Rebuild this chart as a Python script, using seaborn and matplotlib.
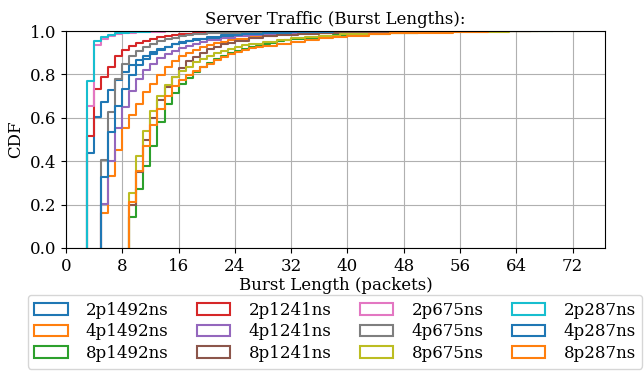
import numpy as np
import pandas as pd
import matplotlib
matplotlib.use("Agg")
import matplotlib.pyplot as plt
import matplotlib.patches as mpatches
import seaborn as sns

# ---- data (CDF value reached at each burst length) ----
names = ["2p1492ns", "4p1492ns", "8p1492ns",
         "2p1241ns", "4p1241ns", "8p1241ns",
         "2p675ns", "4p675ns", "8p675ns",
         "2p287ns", "4p287ns", "8p287ns"]

x_2p1492 = [3, 4, 5, 6, 7, 8, 9, 10, 11, 12, 13, 14, 15, 16, 17, 18, 19, 20, 22, 24, 26, 28, 31, 34, 38, 45, 55]
c_2p1492 = [0.438, 0.604, 0.673, 0.73, 0.776, 0.812, 0.842, 0.866, 0.886, 0.902, 0.916, 0.928, 0.938, 0.946,
            0.953, 0.959, 0.964, 0.969, 0.976, 0.982, 0.987, 0.991, 0.994, 0.996, 0.998, 0.999, 1.0]

x_4p1492 = [5, 6, 7, 8, 9, 10, 11, 12, 13, 14, 15, 16, 17, 18, 19, 20, 21, 22, 23, 24, 26, 28, 30, 33, 36, 40, 45, 52, 60]
c_4p1492 = [0.16, 0.33, 0.45, 0.553, 0.614, 0.665, 0.72, 0.757, 0.796, 0.834, 0.862, 0.885, 0.9, 0.914, 0.926,
            0.936, 0.944, 0.951, 0.957, 0.962, 0.971, 0.978, 0.984, 0.989, 0.993, 0.996, 0.998, 0.999, 1.0]

x_8p1492 = [9, 10, 11, 12, 13, 14, 15, 16, 17, 18, 19, 20, 21, 22, 23, 24, 25, 26, 27, 28, 29, 30, 31, 32, 34, 36,
            38, 40, 43, 46, 50, 55, 62, 68]
c_8p1492 = [0.143, 0.27, 0.376, 0.47, 0.58, 0.665, 0.714, 0.754, 0.785, 0.81, 0.832, 0.852, 0.87, 0.886, 0.9, 0.91,
            0.918, 0.926, 0.933, 0.94, 0.946, 0.952, 0.957, 0.962, 0.97, 0.976, 0.981, 0.985, 0.989, 0.993, 0.996,
            0.998, 0.999, 1.0]

x_2p1241 = [3, 4, 5, 6, 7, 8, 9, 10, 11, 12, 13, 14, 15, 16, 17, 18, 20, 23, 27, 33, 40]
c_2p1241 = [0.516, 0.731, 0.789, 0.836, 0.883, 0.911, 0.933, 0.945, 0.956, 0.964, 0.971, 0.977, 0.981, 0.985,
            0.988, 0.99, 0.993, 0.996, 0.998, 0.999, 1.0]

x_4p1241 = [5, 6, 7, 8, 9, 10, 11, 12, 13, 14, 15, 16, 17, 18, 19, 20, 22, 24, 26, 28, 31, 35, 40, 48, 65]
c_4p1241 = [0.205, 0.40, 0.553, 0.65, 0.725, 0.78, 0.82, 0.85, 0.875, 0.895, 0.91, 0.922, 0.933, 0.942, 0.95,
            0.957, 0.967, 0.975, 0.981, 0.986, 0.99, 0.994, 0.997, 0.999, 1.0]

x_8p1241 = [9, 10, 11, 12, 13, 14, 15, 16, 17, 18, 19, 20, 21, 22, 23, 24, 26, 28, 30, 33, 36, 40, 45, 52, 65]
c_8p1241 = [0.20, 0.35, 0.50, 0.60, 0.68, 0.74, 0.79, 0.83, 0.86, 0.88, 0.90, 0.915, 0.928, 0.938, 0.947, 0.955,
            0.966, 0.975, 0.981, 0.987, 0.991, 0.995, 0.997, 0.999, 1.0]

x_2p675 = [3, 4, 5, 6, 7, 8, 9, 10, 12, 14, 17, 22, 28]
c_2p675 = [0.655, 0.937, 0.962, 0.976, 0.984, 0.989, 0.992, 0.994, 0.996, 0.998, 0.999, 0.9995, 1.0]

x_4p675 = [5, 6, 7, 8, 9, 10, 11, 12, 13, 14, 15, 16, 17, 18, 20, 22, 25, 30, 38, 50]
c_4p675 = [0.404, 0.627, 0.78, 0.85, 0.885, 0.91, 0.928, 0.942, 0.953, 0.962, 0.969, 0.975, 0.98, 0.984, 0.989,
           0.993, 0.996, 0.998, 0.999, 1.0]

x_8p675 = [9, 10, 11, 12, 13, 14, 15, 16, 17, 18, 19, 20, 21, 22, 23, 24, 25, 26, 28, 30, 32, 34, 36, 39, 42, 46,
           50, 56, 63, 72]
c_8p675 = [0.255, 0.424, 0.54, 0.63, 0.70, 0.75, 0.79, 0.815, 0.835, 0.855, 0.87, 0.885, 0.897, 0.908, 0.918,
           0.927, 0.934, 0.94, 0.951, 0.96, 0.967, 0.973, 0.978, 0.984, 0.988, 0.992, 0.995, 0.997, 0.999, 1.0]

x_2p287 = [3, 4, 5, 6, 7, 8, 9, 10, 12, 14, 17, 22]
c_2p287 = [0.77, 0.955, 0.972, 0.983, 0.989, 0.993, 0.995, 0.997, 0.998, 0.999, 0.9995, 1.0]

x_4p287 = [5, 6, 7, 8, 9, 10, 11, 12, 13, 14, 15, 16, 17, 18, 20, 22, 25, 28, 32, 38, 48]
c_4p287 = [0.327, 0.535, 0.653, 0.734, 0.796, 0.842, 0.872, 0.895, 0.913, 0.927, 0.938, 0.948, 0.956, 0.963,
           0.973, 0.98, 0.987, 0.991, 0.995, 0.998, 1.0]

x_8p287 = [9, 10, 11, 12, 13, 14, 15, 16, 17, 18, 19, 20, 21, 22, 23, 24, 25, 26, 27, 28, 30, 32, 34, 36, 38, 40,
           43, 46, 50, 55, 60, 66]
c_8p287 = [0.212, 0.353, 0.47, 0.565, 0.64, 0.70, 0.745, 0.775, 0.795, 0.815, 0.833, 0.85, 0.866, 0.88, 0.893,
           0.905, 0.913, 0.92, 0.926, 0.932, 0.942, 0.951, 0.959, 0.966, 0.972, 0.978, 0.984, 0.989, 0.993, 0.996,
           0.998, 1.0]

series_x = [x_2p1492, x_4p1492, x_8p1492, x_2p1241, x_4p1241, x_8p1241,
            x_2p675, x_4p675, x_8p675, x_2p287, x_4p287, x_8p287]
series_c = [c_2p1492, c_4p1492, c_8p1492, c_2p1241, c_4p1241, c_8p1241,
            c_2p675, c_4p675, c_8p675, c_2p287, c_4p287, c_8p287]

xticks = [0, 8, 16, 24, 32, 40, 48, 56, 64, 72]
yticks = [0.0, 0.2, 0.4, 0.6, 0.8, 1.0]

plt.rcParams["font.family"] = ["DejaVu Serif"]
plt.rcParams["font.size"] = 12

palette = [sns.color_palette("tab10")[i % 10] for i in range(len(names))]

fig = plt.figure(figsize=(6.44, 3.77), dpi=100)
ax = fig.add_axes([66 / 644, 1 - 248 / 377, (605 - 66) / 644, (248 - 31) / 377])

# one weighted ECDF per configuration, drawn in legend order (later ones on top)
for name, xs, cs, col in zip(names, series_x, series_c, palette):
    w = np.diff(np.asarray(cs, dtype=float), prepend=0.0)
    sub = pd.DataFrame({"burst": np.asarray(xs, dtype=float), "weight": w})
    sns.ecdfplot(data=sub, x="burst", weights="weight", color=col, linewidth=1.5, ax=ax)
    line = ax.lines[-1]
    lx, ly = line.get_data()
    lx = np.asarray(lx, dtype=float).copy()
    ly = np.asarray(ly, dtype=float).copy()
    # histogram-style outline: start on the axis at the first burst length,
    # hold the final level for one more unit-wide bin
    lx[0] = lx[1]
    lx = np.append(lx, lx[-1] + 1)
    ly = np.append(ly, ly[-1])
    line.set_data(lx, ly)

ax.set_xlim(0, 76.6)
ax.set_ylim(0, 1.0)
ax.set_xticks(xticks)
ax.set_yticks(yticks)
ax.grid(True, color="#b0b0b0", linewidth=0.8)
ax.set_axisbelow(True)
ax.set_xlabel("Burst Length (packets)", fontsize=12, labelpad=2)
ax.set_ylabel("CDF", fontsize=12)
ax.set_title("Server Traffic (Burst Lengths):", fontsize=12, pad=5)

handles = [mpatches.Patch(facecolor="none", edgecolor=c, linewidth=1.5) for c in palette]
fig.legend(handles, names, loc="upper center", bbox_to_anchor=(335 / 644, 1 - 295 / 377),
           ncol=4, fontsize=12, handlelength=2.0, handletextpad=1.1, columnspacing=1.7,
           labelspacing=0.28, borderaxespad=0.0, frameon=True)

fig.savefig("out.png", dpi=100)
